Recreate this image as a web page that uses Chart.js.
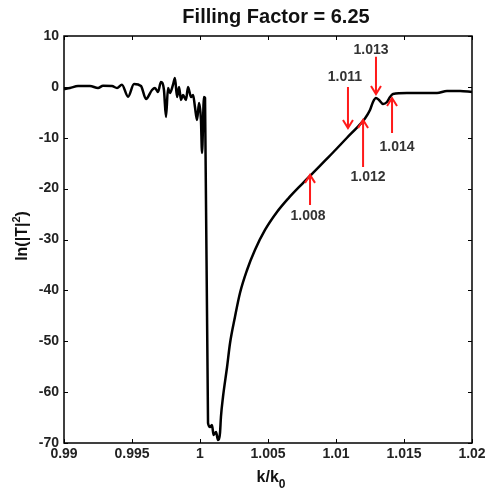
<!DOCTYPE html>
<html>
<head>
<meta charset="utf-8">
<script src="https://cdn.jsdelivr.net/npm/chart.js@4.4.1/dist/chart.umd.min.js"></script>
<style>
html,body{margin:0;padding:0;background:#fff;}
#wrap{width:489px;height:491px;position:relative;}
</style>
</head>
<body>
<div id="wrap"><canvas id="c"></canvas></div>
<script>
// ---- data ----
const kRatio = [0.99, 0.99044, 0.99103, 0.99191, 0.9925, 0.99287, 0.99353, 0.9939, 0.99426, 0.99471,
  0.99515, 0.99566, 0.99603, 0.99647, 0.99669, 0.99691, 0.99713, 0.99735, 0.9975, 0.99765,
  0.99779, 0.99801, 0.99816, 0.99831, 0.99846, 0.9986, 0.99875, 0.99897, 0.99912, 0.99934,
  0.99949, 0.99963, 0.99978, 0.99993, 1.00007, 1.00015, 1.00029, 1.00037,
  1.00059, 1.00074, 1.00088, 1.0010, 1.00118, 1.00132, 1.00147, 1.00154, 1.00169, 1.00199,
  1.00221, 1.00257, 1.00294, 1.00346, 1.00404, 1.00478, 1.00566, 1.00647, 1.0075, 1.00831,
  1.00919, 1.00978, 1.01081, 1.01154, 1.01213, 1.0125, 1.01272, 1.01294, 1.01316, 1.01346,
  1.01375, 1.01397, 1.01419, 1.01522, 1.01618, 1.01743, 1.01816, 1.01912, 1.02];
const lnT2 = [-0.42, -0.22, 0.17, 0.17, -0.22, 0.23, 0.17, -0.22, 0.43, -1.93,
  0.57, 0.17, -2.38, -0.61, -0.22, -1.0, 0.96, -0.61, -5.92, -0.22,
  -1.2, 0.37, 1.74, -1.99, -0.02, -2.58, -1.6, -2.58, -0.02, -1.99,
  -1.6, -3.96, -6.51, -3.17, -6.51, -13.0, -1.99, -2.19,
  -66.07, -66.86, -66.46, -68.43, -67.84, -69.41, -68.04, -64.89, -60.96, -55.06,
  -50.34, -45.23, -40.52, -36.0, -32.07, -28.13, -24.6, -22.0, -19.1, -16.9,
  -14.5, -12.9, -10.0, -8.0, -6.2, -4.55, -2.97, -2.19, -2.58, -3.37,
  -2.97, -1.99, -1.4, -1.2, -1.2, -1.2, -0.81, -0.81, -1.0];

const xTickValues = [0.99, 0.995, 1.0, 1.005, 1.01, 1.015, 1.02];
const xTickLabels = ['0.99', '0.995', '1', '1.005', '1.01', '1.015', '1.02'];
const yTickValues = [10, 0, -10, -20, -30, -40, -50, -60, -70];
const yTickLabels = ['10', '0', '-10', '-20', '-30', '-40', '-50', '-60', '-70'];

const annotLabels = ['1.008', '1.011', '1.012', '1.013', '1.014'];
const annotX = [1.00809, 1.01088, 1.01199, 1.01294, 1.01412];
const arrowTipY = [-17.3, -8.1, -6.5, -1.4, -2.2];
const arrowTailY = [-23.2, -0.02, -15.75, 5.9, -9.07];

const titleText = 'Filling Factor = 6.25';

// ---- presentation ----
const labelOffsets = [[-2, 11], [-3, -10], [5, 10], [-5, -7], [5, 14]];
const FONT = '"Liberation Sans", Arial, sans-serif';

const points = kRatio.map((x, i) => ({x: x, y: lnT2[i]}));

const framePlugin = {
  id: 'frame',
  afterDatasetsDraw(chart) {
    const ctx = chart.ctx;
    const a = chart.chartArea;
    const xs = chart.scales.x, ys = chart.scales.y;
    ctx.save();
    // annotations
    ctx.strokeStyle = '#ff1a1a';
    ctx.fillStyle = '#333';
    ctx.lineWidth = 2;
    ctx.font = 'bold 14px ' + FONT;
    ctx.textAlign = 'center';
    ctx.textBaseline = 'middle';
    annotLabels.forEach((lab, i) => {
      const px = xs.getPixelForValue(annotX[i]);
      const tip = ys.getPixelForValue(arrowTipY[i]);
      const tail = ys.getPixelForValue(arrowTailY[i]);
      const dir = tip < tail ? 1 : -1; // 1 : arrow pointing up
      ctx.beginPath();
      ctx.moveTo(px, tail);
      ctx.lineTo(px, tip);
      ctx.moveTo(px - 5, tip + dir * 8);
      ctx.lineTo(px, tip);
      ctx.lineTo(px + 5, tip + dir * 8);
      ctx.stroke();
      const off = labelOffsets[i];
      ctx.fillText(lab, px + off[0], tail + off[1]);
    });
    // box
    ctx.strokeStyle = '#000';
    ctx.lineWidth = 1.5;
    ctx.strokeRect(a.left, a.top, a.right - a.left, a.bottom - a.top);
    ctx.lineWidth = 1;
    ctx.beginPath();
    xTickValues.forEach(v => {
      const p = Math.round(xs.getPixelForValue(v)) + 0.5;
      ctx.moveTo(p, a.bottom); ctx.lineTo(p, a.bottom - 4);
      ctx.moveTo(p, a.top); ctx.lineTo(p, a.top + 4);
    });
    yTickValues.forEach(v => {
      const p = Math.round(ys.getPixelForValue(v)) + 0.5;
      ctx.moveTo(a.left, p); ctx.lineTo(a.left + 4, p);
      ctx.moveTo(a.right, p); ctx.lineTo(a.right - 4, p);
    });
    ctx.stroke();
    // titles
    ctx.fillStyle = '#111';
    ctx.font = 'bold 20px ' + FONT;
    ctx.textAlign = 'center';
    ctx.textBaseline = 'middle';
    ctx.fillText(titleText, 276, 17);
    // x title k/k0
    ctx.font = 'bold 16px ' + FONT;
    const mainT = 'k/k';
    const wMain = ctx.measureText(mainT).width;
    ctx.font = 'bold 12px ' + FONT;
    const wSub = ctx.measureText('0').width;
    const cx = 271;
    const startX = cx - (wMain + wSub) / 2;
    ctx.textAlign = 'left';
    ctx.font = 'bold 16px ' + FONT;
    ctx.fillText(mainT, startX, 478);
    ctx.font = 'bold 12px ' + FONT;
    ctx.fillText('0', startX + wMain, 485);
    // y title ln(|T|^2)
    ctx.translate(23, 236);
    ctx.rotate(-Math.PI / 2);
    ctx.font = 'bold 16px ' + FONT;
    const p1 = 'ln(|T|', p2 = ')';
    const w1 = ctx.measureText(p1).width, w2 = ctx.measureText(p2).width;
    ctx.font = 'bold 11px ' + FONT;
    const wsup = ctx.measureText('2').width;
    const sx = -(w1 + wsup + w2) / 2;
    ctx.font = 'bold 16px ' + FONT;
    ctx.fillText(p1, sx, 0);
    ctx.font = 'bold 11px ' + FONT;
    ctx.fillText('2', sx + w1, -6);
    ctx.font = 'bold 16px ' + FONT;
    ctx.fillText(p2, sx + w1 + wsup, 0);
    ctx.restore();
  }
};

new Chart(document.getElementById('c'), {
  type: 'line',
  data: {
    datasets: [{
      data: points,
      borderColor: '#000',
      borderWidth: 2.5,
      pointRadius: 0,
      cubicInterpolationMode: 'monotone',
      fill: false
    }]
  },
  options: {
    responsive: true,
    maintainAspectRatio: false,
    animation: false,
    devicePixelRatio: 1,
    layout: {padding: {left: 0, right: 17, top: 36, bottom: 0}},
    plugins: {legend: {display: false}, tooltip: {enabled: false}, title: {display: false}},
    scales: {
      x: {
        type: 'linear', min: 0.99, max: 1.02,
        grid: {display: false, drawTicks: false},
        border: {display: false},
        afterBuildTicks: s => { s.ticks = xTickValues.map(v => ({value: v})); },
        afterFit: s => { s.height = 48; },
        ticks: {
          padding: 3, color: '#222', maxRotation: 0, autoSkip: false,
          font: {family: FONT, size: 14, weight: 'bold'},
          callback: (v) => { const i = xTickValues.findIndex(t => Math.abs(t - v) < 1e-9); return i >= 0 ? xTickLabels[i] : ''; }
        }
      },
      y: {
        type: 'linear', min: -70, max: 10,
        grid: {display: false, drawTicks: false},
        border: {display: false},
        afterBuildTicks: s => { s.ticks = yTickValues.map(v => ({value: v})); },
        afterFit: s => { s.width = 64; },
        ticks: {
          padding: 5, color: '#222', autoSkip: false,
          font: {family: FONT, size: 14, weight: 'bold'},
          callback: (v) => { const i = yTickValues.indexOf(v); return i >= 0 ? yTickLabels[i] : ''; }
        }
      }
    }
  },
  plugins: [framePlugin]
});
</script>
</body>
</html>
